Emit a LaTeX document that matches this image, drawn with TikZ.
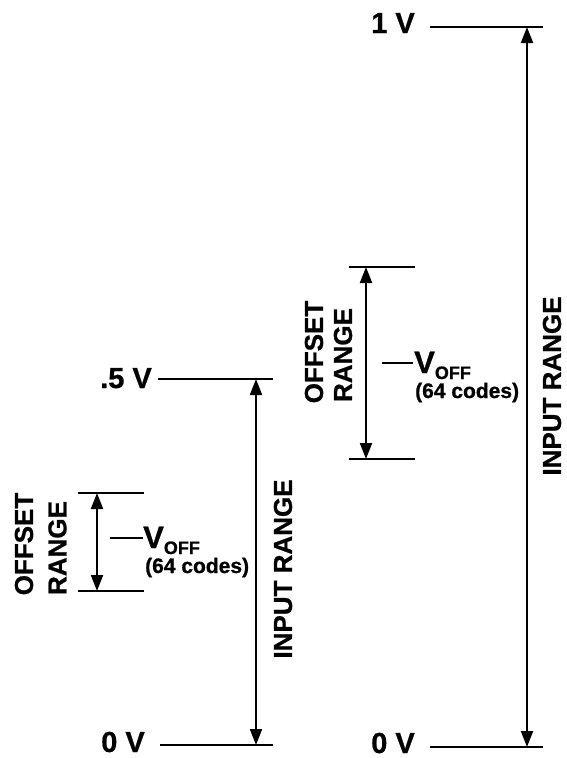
\documentclass[tikz,border=0pt]{standalone}
\usepackage{fontspec}
\setmainfont{Liberation Sans}
\newfontfamily\hv{Liberation Sans Bold}[FakeBold=0.8]
\usetikzlibrary{arrows.meta}
\begin{document}
\begin{tikzpicture}[x=1pt,y=-1pt,
  txt/.style={inner sep=0pt,font=\hv},
  lvl/.style={txt,anchor=base east,font=\fontsize{29}{29}\selectfont\hv},
  rot/.style={txt,rotate=90,font=\fontsize{26}{26}\selectfont\hv},
  ln/.style={line width=2pt},
  dim/.style={line width=2pt,{Triangle[length=16pt,width=12pt]}-{Triangle[length=16pt,width=12pt]}},
  voff/.style={txt,anchor=base west,font=\fontsize{31}{31}\selectfont\hv},
  codes/.style={txt,anchor=base west,font=\fontsize{21}{21}\selectfont\hv}]
\useasboundingbox (0,0) rectangle (566,758);
% ---------- left system ----------
\node[lvl] (l5lab) at (152,388) {.5 V};
\coordinate (l5a) at (158,379);
\coordinate (l5b) at (273,379);
\draw[ln] (l5a) -- (l5b);
\node[lvl] (l0lab) at (145,752) {0 V};
\coordinate (l0a) at (160,745);
\coordinate (l0b) at (273,745);
\draw[ln] (l0a) -- (l0b);
\coordinate (larT) at (256,379);
\coordinate (larB) at (256,745);
\draw[dim] (larT) -- (larB);
\node[rot] (linr) at (283,569) {INPUT RANGE};
% left offset
\coordinate (lotA) at (78,493);
\coordinate (lotB) at (144,493);
\coordinate (lobA) at (78,591);
\coordinate (lobB) at (144,591);
\draw[ln] (lotA) -- (lotB);
\draw[ln] (lobA) -- (lobB);
\coordinate (loT) at (97,493);
\coordinate (loB) at (97,591);
\draw[dim] (loT) -- (loB);
\node[rot] (lofs) at (24,544) {OFFSET};
\node[rot] (lrng) at (57.5,548) {RANGE};
\coordinate (ltA) at (110,538);
\coordinate (ltB) at (143,538);
\draw[ln] (ltA) -- (ltB);
\node[voff] (lv) at (143,548) {V\raisebox{-6pt}{\fontsize{18}{18}\selectfont OFF}};
\node[codes] (lc) at (145,573) {(64 codes)};
% ---------- right system ----------
\node[lvl] (r1lab) at (415,33) {1 V};
\coordinate (r1a) at (430,27);
\coordinate (r1b) at (543,27);
\draw[ln] (r1a) -- (r1b);
\node[lvl] (r0lab) at (415,753) {0 V};
\coordinate (r0a) at (430,747);
\coordinate (r0b) at (543,747);
\draw[ln] (r0a) -- (r0b);
\coordinate (rarT) at (527,27);
\coordinate (rarB) at (527,747);
\draw[dim] (rarT) -- (rarB);
\node[rot] (rinr) at (552,386) {INPUT RANGE};
% right offset
\coordinate (rotA) at (349,267);
\coordinate (rotB) at (415,267);
\coordinate (robA) at (349,459);
\coordinate (robB) at (415,459);
\draw[ln] (rotA) -- (rotB);
\draw[ln] (robA) -- (robB);
\coordinate (roT) at (366,267);
\coordinate (roB) at (366,459);
\draw[dim] (roT) -- (roB);
\node[rot] (rofs) at (314,352) {OFFSET};
\node[rot] (rrng) at (343,355) {RANGE};
\coordinate (rtA) at (382,363);
\coordinate (rtB) at (413,363);
\draw[ln] (rtA) -- (rtB);
\node[voff] (rv) at (414,373) {V\raisebox{-6pt}{\fontsize{18}{18}\selectfont OFF}};
\node[codes] (rc) at (415,398) {(64 codes)};
\end{tikzpicture}
\end{document}
